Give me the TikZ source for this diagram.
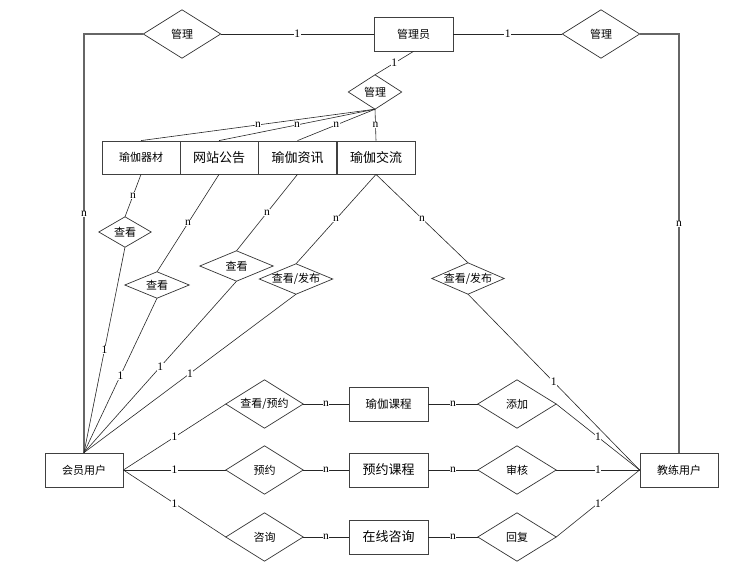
\documentclass[tikz,border=0pt]{standalone}
\usepackage{fontspec}
\setmainfont{Liberation Serif}
\newfontfamily\cjk{Noto Sans CJK SC}
\begin{document}
\begin{tikzpicture}[x=1pt,y=-1pt,
  box/.style={draw=black!75,line width=0.8pt,fill=white,inner sep=0pt,minimum width=78pt,minimum height=34pt,font=\cjk\fontsize{11}{11}\selectfont},
  bigtext/.style={font=\cjk\fontsize{13}{13}\selectfont},
  dia/.style={inner sep=0pt,font=\cjk\fontsize{11}{11}\selectfont},
  conn/.style={draw=black!85,line width=0.6pt},
  vconn/.style={draw=black!60,line width=1.1pt},
  lbl/.style={fill=white,inner sep=0.5pt,font=\fontsize{11.5}{11.5}\selectfont}]
\useasboundingbox (0,0) rectangle (755,584);
% entity boxes
\node[box,minimum width=79pt] (admin) at (413.5,34) {管理员};
\node[box,minimum height=33pt] (eq) at (141,157.5) {瑜伽器材};
\node[box,minimum height=33pt,bigtext] (notice) at (219,157.5) {网站公告};
\node[box,minimum height=33pt,bigtext] (news) at (297.5,157.5) {瑜伽资讯};
\node[box,minimum height=33pt,bigtext] (talk) at (376,157.5) {瑜伽交流};
\node[box] (member) at (84,470) {会员用户};
\node[box] (coach) at (679,470) {教练用户};
\node[box,minimum width=79pt,font=\cjk\fontsize{11.5}{11.5}\selectfont] (course) at (388.5,404) {瑜伽课程};
\node[box,minimum width=79pt,bigtext] (book) at (388.5,470) {预约课程};
\node[box,minimum width=79pt,bigtext] (consult) at (388.5,537) {在线咨询};
% relationship diamonds
\node[dia,minimum width=77pt,minimum height=48pt] (ldia) at (182,34) {管理};
\node[dia,minimum width=77pt,minimum height=48pt] (rdia) at (601,34) {管理};
\node[dia,minimum width=53pt,minimum height=34pt] (mdia) at (375,92) {管理};
\node[dia,minimum width=52pt,minimum height=30pt] (c1) at (125,232) {查看};
\node[dia,minimum width=64pt,minimum height=26pt] (c2) at (157,285) {查看};
\node[dia,minimum width=73pt,minimum height=30pt] (c3) at (236.5,266) {查看};
\node[dia,minimum width=73pt,minimum height=30pt] (f1) at (296,279) {查看/发布};
\node[dia,minimum width=72pt,minimum height=31pt] (f2) at (468,278.5) {查看/发布};
\node[dia,minimum width=77pt,minimum height=48pt] (b1) at (264.5,404) {查看/预约};
\node[dia,minimum width=77pt,minimum height=48pt] (b2) at (264.5,470) {预约};
\node[dia,minimum width=77pt,minimum height=48pt] (b3) at (264.5,537) {咨询};
\node[dia,minimum width=78pt,minimum height=48pt] (a1) at (517,404) {添加};
\node[dia,minimum width=78pt,minimum height=48pt] (a2) at (517,470) {审核};
\node[dia,minimum width=78pt,minimum height=48pt] (a3) at (517,537) {回复};
\foreach \d in {ldia,rdia,mdia,c1,c2,c3,f1,f2,b1,b2,b3,a1,a2,a3}
  \draw[draw=black!80,line width=0.7pt] (\d.north) -- (\d.east) -- (\d.south) -- (\d.west) -- cycle;
% connectors top
\draw[conn] (ldia.east) -- node[lbl]{1} (admin.west);
\draw[conn] (admin.east) -- node[lbl]{1} (rdia.west);
\draw[vconn] (ldia.west) -| node[lbl,pos=0.715]{n} (member.north);
\draw[vconn] (rdia.east) -| node[lbl,pos=0.727]{n} (coach.north);
\draw[conn] (admin.south) -- node[lbl]{1} (mdia.north);
\foreach \b in {eq,notice,news,talk}
  \draw[conn] (mdia.south) -- node[lbl]{n} (\b.north);
% view relations
\draw[conn] (eq.south) -- node[lbl]{n} (c1.north);
\draw[conn] (c1.south) -- node[lbl]{1} (member.north);
\draw[conn] (notice.south) -- node[lbl]{n} (c2.north);
\draw[conn] (c2.south) -- node[lbl]{1} (member.north);
\draw[conn] (news.south) -- node[lbl]{n} (c3.north);
\draw[conn] (c3.south) -- node[lbl]{1} (member.north);
\draw[conn] (talk.south) -- node[lbl]{n} (f1.north);
\draw[conn] (f1.south) -- node[lbl]{1} (member.north);
\draw[conn] (talk.south) -- node[lbl]{n} (f2.north);
\draw[conn] (f2.south) -- node[lbl]{1} (coach.west);
% bottom relations
\foreach \d/\e/\a in {b1/course/a1,b2/book/a2,b3/consult/a3}{
  \draw[conn] (member.east) -- node[lbl]{1} (\d.west);
  \draw[conn] (\d.east) -- node[lbl]{n} (\e.west);
  \draw[conn] (\e.east) -- node[lbl]{n} (\a.west);
  \draw[conn] (\a.east) -- node[lbl]{1} (coach.west);
}
\end{tikzpicture}
\end{document}
